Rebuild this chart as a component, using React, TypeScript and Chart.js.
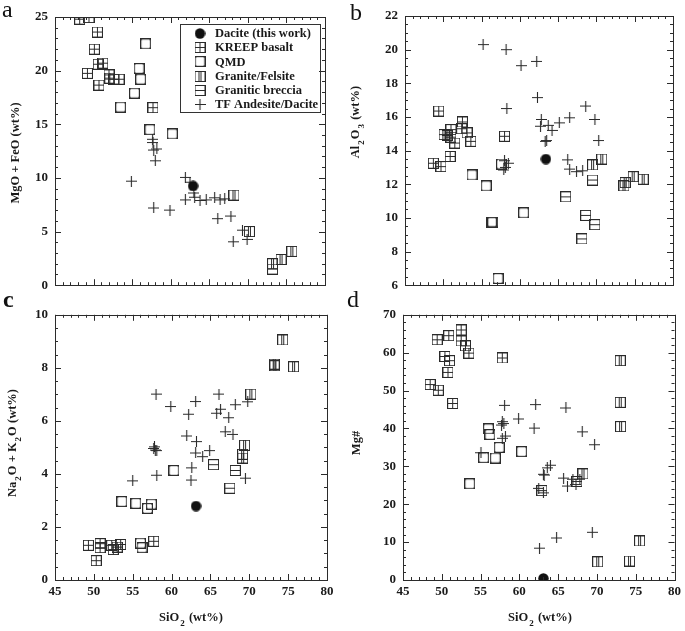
import React, { useEffect, useRef } from "react";
import { Chart, registerables } from "chart.js";
Chart.register(...registerables);

type P = [number, number];

// ---------- Panel a : MgO + FeO ----------
const A_DACITE: P[] = [[62.9, 9.25]];
const A_KREEP: P[] = [[48.2, 24.8], [49.4, 24.95], [50.5, 23.6], [50.1, 22.0], [49.2, 19.75], [50.6, 20.6], [51.2, 20.7], [50.7, 18.65], [52.0, 19.6], [52.1, 19.3], [52.6, 19.2], [53.3, 19.2], [57.7, 16.55]];
const A_QMD: P[] = [[56.75, 22.5], [55.9, 20.2], [56.1, 19.2], [55.3, 17.9], [53.5, 16.6], [57.3, 14.5], [60.2, 14.1]];
const A_GRANITE: P[] = [[68.2, 8.4], [70.2, 5.0], [73.2, 2.0], [74.3, 2.4], [75.7, 3.15]];
const A_BRECCIA: P[] = [[73.2, 1.5]];
const A_TF: P[] = [[57.65, 13.6], [57.7, 13.3], [57.8, 12.6], [58.2, 12.7], [58.0, 11.6], [54.9, 9.7], [57.8, 7.2], [59.9, 7.0], [61.9, 10.05], [62.5, 9.6], [61.9, 7.95], [63.0, 8.6], [63.1, 8.2], [63.8, 7.9], [64.6, 7.95], [65.7, 8.15], [66.4, 7.95], [67.0, 8.05], [66.1, 6.2], [67.8, 6.45], [68.1, 4.05], [69.3, 5.13], [69.9, 4.27]];

// ---------- Panel b : Al2O3 ----------
const B_DACITE: P[] = [[63.4, 13.5]];
const B_KREEP: P[] = [[49.4, 16.35], [48.7, 13.25], [49.7, 13.05], [50.1, 14.95], [50.5, 14.9], [51.0, 15.25], [51.0, 14.8], [51.5, 14.45], [50.9, 13.65], [52.5, 15.7], [52.4, 15.3], [53.1, 15.05], [53.6, 14.55], [58.0, 14.85]];
const B_QMD: P[] = [[53.75, 12.55], [55.6, 11.9], [56.3, 9.75], [56.45, 9.75], [57.15, 6.4], [60.5, 10.3], [57.6, 13.2]];
const B_GRANITE: P[] = [[69.5, 13.15], [70.7, 13.5], [73.6, 11.9], [73.75, 12.1], [74.8, 12.45], [76.1, 12.3]];
const B_BRECCIA: P[] = [[66.0, 11.25], [68.6, 10.15], [68.1, 8.75], [69.8, 9.6], [69.5, 12.25]];
const B_TF: P[] = [[55.2, 20.3], [58.2, 20.0], [60.15, 19.05], [62.2, 19.3], [62.3, 17.15], [58.3, 16.5], [62.8, 15.85], [62.7, 15.45], [63.7, 15.5], [64.2, 15.2], [65.15, 15.65], [66.5, 15.95], [68.6, 16.65], [69.8, 15.85], [70.3, 14.6], [63.3, 14.55], [63.5, 14.6], [66.25, 13.45], [66.5, 12.9], [67.4, 12.75], [68.2, 12.8], [58.0, 13.4], [58.1, 13.0], [57.9, 12.85], [58.5, 13.25]];

// ---------- Panel c : Na2O + K2O ----------
const C_DACITE: P[] = [[63.15, 2.79]];
const C_KREEP: P[] = [[49.3, 1.31], [50.3, 0.73], [50.8, 1.37], [50.8, 1.22], [52.3, 1.31], [52.5, 1.15], [53.0, 1.24], [53.45, 1.34], [57.7, 1.46]];
const C_QMD: P[] = [[53.6, 2.96], [55.4, 2.89], [56.9, 2.7], [57.4, 2.86], [56.0, 1.39], [56.2, 1.22], [60.3, 4.13]];
const C_GRANITE: P[] = [[73.2, 8.14], [73.3, 8.08], [74.3, 9.05], [75.7, 8.04], [70.2, 7.01], [69.4, 5.08], [69.15, 4.74], [69.15, 4.6]];
const C_BRECCIA: P[] = [[65.4, 4.35], [68.2, 4.13], [67.5, 3.46]];
const C_TF: P[] = [[58.0, 7.01], [59.9, 6.54], [63.1, 6.73], [62.2, 6.25], [66.1, 7.01], [65.8, 6.29], [66.3, 6.44], [68.2, 6.61], [69.8, 6.72], [67.35, 6.12], [66.9, 5.59], [67.9, 5.49], [61.95, 5.43], [63.2, 5.22], [63.1, 4.79], [64.9, 4.88], [64.0, 4.65], [62.6, 4.23], [62.5, 3.77], [58.1, 3.95], [55.0, 3.74], [69.5, 3.84], [57.8, 5.02], [57.9, 4.9], [57.7, 4.96], [58.1, 4.88]];

// ---------- Panel d : Mg# ----------
const D_DACITE: P[] = [[63.1, 0.4]];
const D_KREEP: P[] = [[48.5, 51.6], [49.55, 50.1], [49.4, 63.4], [50.4, 59.0], [50.9, 64.5], [51.0, 57.9], [50.8, 54.8], [51.4, 46.6], [52.5, 66.0], [52.5, 63.1], [53.05, 61.8], [53.5, 59.9], [57.8, 58.6]];
const D_QMD: P[] = [[56.0, 39.9], [56.2, 38.4], [55.4, 32.3], [56.9, 32.2], [57.4, 35.0], [60.3, 33.9], [53.6, 25.4]];
const D_GRANITE: P[] = [[73.0, 57.9], [73.0, 46.9], [73.05, 40.5], [75.5, 10.3], [74.2, 5.0], [70.1, 4.8], [68.2, 28.0]];
const D_BRECCIA: P[] = [[67.4, 26.0], [62.9, 23.6]];
const D_TF: P[] = [[58.1, 46.1], [62.1, 46.3], [66.0, 45.4], [59.9, 42.5], [61.9, 40.1], [57.8, 41.8], [57.7, 40.9], [58.0, 41.3], [57.8, 37.4], [58.2, 38.0], [68.1, 39.1], [69.7, 35.7], [55.05, 33.6], [64.0, 30.3], [63.6, 29.6], [63.1, 27.9], [63.2, 27.7], [65.7, 26.9], [66.2, 24.8], [66.9, 26.6], [67.3, 25.2], [67.8, 26.6], [62.5, 24.2], [63.1, 23.0], [69.4, 12.6], [64.8, 11.1], [62.6, 8.4]];

// ---------- labels / ticks ----------
const SERIES_LABELS = ["Dacite (this work)", "KREEP basalt", "QMD", "Granite/Felsite", "Granitic breccia", "TF Andesite/Dacite"];
const SERIES_KEYS = ["dacite", "kreep", "qmd", "granite", "breccia", "tf"];
const X_MIN = 45, X_MAX = 80, X_STEP = 5, X_MINOR = 1;

const FONT = '"Liberation Serif", "Times New Roman", Times, serif';
const INK = "#1a1a1a";

type Seg = { t: string; sub?: boolean };

function makeMarker(kind: string): HTMLCanvasElement {
  const s = 11;
  const c = document.createElement("canvas");
  c.width = s; c.height = s;
  const g = c.getContext("2d")!;
  g.strokeStyle = "#2a2a2a"; g.fillStyle = "#111"; g.lineWidth = 1;
  if (kind === "dacite") {
    g.beginPath(); g.arc(5.5, 5.5, 5.2, 0, Math.PI * 2); g.fill();
    return c;
  }
  if (kind === "tf") {
    g.lineWidth = 1.1;
    g.beginPath(); g.moveTo(0, 5.5); g.lineTo(11, 5.5); g.moveTo(5.5, 0); g.lineTo(5.5, 11); g.stroke();
    return c;
  }
  if (kind === "qmd") {
    g.lineWidth = 1.2;
    g.strokeRect(0.6, 0.6, 9.8, 9.8);
    g.fillStyle = "#333";
    g.beginPath();
    g.rect(0.5, 0.5, 10, 10);
    g.arc(5.5, 5.5, 5.7, 0, Math.PI * 2);
    g.fill("evenodd");
    return c;
  }
  g.strokeRect(0.5, 0.5, 10, 10);
  g.beginPath();
  if (kind === "kreep") { g.moveTo(5.5, 0.5); g.lineTo(5.5, 10.5); g.moveTo(0.5, 5.5); g.lineTo(10.5, 5.5); }
  if (kind === "granite") { g.moveTo(4.5, 0.5); g.lineTo(4.5, 10.5); g.moveTo(6.5, 0.5); g.lineTo(6.5, 10.5); }
  if (kind === "breccia") { g.moveTo(0.5, 5.5); g.lineTo(10.5, 5.5); }
  g.stroke();
  return c;
}

type Panel = {
  id: string; letter: string; letterBold?: boolean;
  left: number; top: number; w: number; h: number;
  padTop: number; padRight: number; yW: number; xH: number;
  yMin: number; yMax: number; yStep: number; yMinor: number;
  showX: boolean;
  data: P[][];
  yTitle: Seg[]; yTitlePos: [number, number];
  xTitlePos?: [number, number];
  legend?: boolean;
  letterPos: [number, number];
};

const X_TITLE: Seg[] = [{ t: "SiO" }, { t: "2", sub: true }, { t: " (wt%)" }];

const PANELS: Panel[] = [
  { id: "a", letter: "a", left: 0, top: 0, w: 340, h: 300, padTop: 17, padRight: 15, yW: 55, xH: 11,
    yMin: 0, yMax: 25, yStep: 5, yMinor: 1, showX: false,
    data: [A_DACITE, A_KREEP, A_QMD, A_GRANITE, A_BRECCIA, A_TF],
    yTitle: [{ t: "MgO + FeO (wt%)" }], yTitlePos: [16, 153], legend: true, letterPos: [2, -3] },
  { id: "b", letter: "b", left: 340, top: 0, w: 345, h: 300, padTop: 16, padRight: 12, yW: 65, xH: 11,
    yMin: 6, yMax: 22, yStep: 2, yMinor: 0.5, showX: false,
    data: [B_DACITE, B_KREEP, B_QMD, B_GRANITE, B_BRECCIA, B_TF],
    yTitle: [{ t: "Al" }, { t: "2", sub: true }, { t: "O" }, { t: "3", sub: true }, { t: " (wt%)" }], yTitlePos: [16, 122], letterPos: [350, 0] },
  { id: "c", letter: "c", letterBold: true, left: 0, top: 300, w: 340, h: 331, padTop: 6, padRight: 13, yW: 55, xH: 51,
    yMin: 0, yMax: 10, yStep: 2, yMinor: 0.5, showX: true,
    data: [C_DACITE, C_KREEP, C_QMD, C_GRANITE, C_BRECCIA, C_TF],
    yTitle: [{ t: "Na" }, { t: "2", sub: true }, { t: "O + K" }, { t: "2", sub: true }, { t: "O (wt%)" }], yTitlePos: [13, 143],
    xTitlePos: [191, 318], letterPos: [3, 287] },
  { id: "d", letter: "d", left: 340, top: 300, w: 345, h: 331, padTop: 6, padRight: 8, yW: 63, xH: 51,
    yMin: 0, yMax: 70, yStep: 10, yMinor: 2, showX: true,
    data: [D_DACITE, D_KREEP, D_QMD, D_GRANITE, D_BRECCIA, D_TF],
    yTitle: [{ t: "Mg#" }], yTitlePos: [17, 143], xTitlePos: [200, 318], letterPos: [347, 287] },
];

function drawSegs(g: CanvasRenderingContext2D, segs: Seg[], cx: number, cy: number, rotate: boolean) {
  const main = `bold 12.5px ${FONT}`;
  const sub = `bold 9px ${FONT}`;
  g.save();
  g.translate(cx, cy);
  if (rotate) g.rotate(-Math.PI / 2);
  let total = 0;
  const widths = segs.map(s => { g.font = s.sub ? sub : main; const w = g.measureText(s.t).width + (s.sub ? 2 : 0); total += w; return w; });
  let x = -total / 2;
  g.fillStyle = INK;
  g.textBaseline = "middle";
  g.textAlign = "left";
  segs.forEach((s, i) => {
    g.font = s.sub ? sub : main;
    g.fillText(s.t, x + (s.sub ? 1 : 0), s.sub ? 6 : 0);
    x += widths[i];
  });
  g.restore();
}

function makeDecorPlugin(p: Panel, markers: HTMLCanvasElement[]) {
  return {
    id: "decor-" + p.id,
    afterDatasetsDraw(chart: any) {
      const g: CanvasRenderingContext2D = chart.ctx;
      const a = chart.chartArea;
      const xs = chart.scales.x, ys = chart.scales.y;
      g.save();
      g.strokeStyle = "#2b2b2b";
      g.lineWidth = 1;
      // frame
      g.strokeRect(Math.round(a.left) + 0.5, Math.round(a.top) + 0.5, Math.round(a.right - a.left), Math.round(a.bottom - a.top));
      g.beginPath();
      // x ticks
      const nx = Math.round((X_MAX - X_MIN) / X_MINOR);
      for (let i = 0; i <= nx; i++) {
        const v = X_MIN + i * X_MINOR;
        const major = Math.abs(v / X_STEP - Math.round(v / X_STEP)) < 1e-6;
        const L = major ? 6 : 3;
        const px = Math.round(xs.getPixelForValue(v)) + 0.5;
        g.moveTo(px, a.bottom); g.lineTo(px, a.bottom - L);
        g.moveTo(px, a.top); g.lineTo(px, a.top + L);
      }
      const ny = Math.round((p.yMax - p.yMin) / p.yMinor);
      for (let i = 0; i <= ny; i++) {
        const v = p.yMin + i * p.yMinor;
        const r = (v - p.yMin) / p.yStep;
        const major = Math.abs(r - Math.round(r)) < 1e-6;
        const L = major ? 6 : 3;
        const py = Math.round(ys.getPixelForValue(v)) + 0.5;
        g.moveTo(a.left, py); g.lineTo(a.left + L, py);
        g.moveTo(a.right, py); g.lineTo(a.right - L, py);
      }
      g.stroke();
      g.restore();

      // axis titles
      drawSegs(g, p.yTitle, p.yTitlePos[0], p.yTitlePos[1], true);
      if (p.xTitlePos) drawSegs(g, X_TITLE, p.xTitlePos[0], p.xTitlePos[1], false);

      // legend
      if (p.legend) {
        g.save();
        g.strokeStyle = "#333"; g.lineWidth = 1;
        g.strokeRect(180.5, 24.5, 140, 88);
        g.font = `bold 12.5px ${FONT}`;
        g.fillStyle = INK; g.textBaseline = "middle"; g.textAlign = "left";
        SERIES_LABELS.forEach((lab, i) => {
          const y = 33.5 + i * 14.2;
          const m = markers[i];
          g.drawImage(m, 200 - m.width / 2, Math.round(y - m.height / 2));
          g.fillText(lab, 215, y + 0.5);
        });
        g.restore();
      }
    },
  };
}

function PanelChart({ p }: { p: Panel }) {
  const ref = useRef<HTMLCanvasElement>(null);
  useEffect(() => {
    const markers = SERIES_KEYS.map(k => makeMarker(k));
    const tickFont = { family: FONT, size: 13, weight: "bold" as const };
    const chart = new Chart(ref.current!, {
      type: "scatter",
      data: {
        datasets: p.data.map((pts, i) => ({
          label: SERIES_LABELS[i],
          data: pts.map(([x, y]) => ({ x, y })),
          pointStyle: markers[i] as any,
          pointRadius: 5,
          backgroundColor: "#111",
          borderColor: "#222",
        })),
      },
      options: {
        animation: false,
        responsive: false,
        events: [],
        layout: { padding: { top: p.padTop, right: p.padRight, left: 0, bottom: 0 } },
        plugins: { legend: { display: false }, tooltip: { enabled: false }, title: { display: false } },
        scales: {
          x: {
            type: "linear", min: X_MIN, max: X_MAX,
            ticks: { display: p.showX, stepSize: X_STEP, font: tickFont, color: INK, padding: 4, maxRotation: 0 },
            grid: { display: false, drawTicks: false },
            border: { display: false },
            afterFit: (s: any) => { s.height = p.xH; },
          },
          y: {
            type: "linear", min: p.yMin, max: p.yMax,
            ticks: { stepSize: p.yStep, font: tickFont, color: INK, padding: 7 },
            grid: { display: false, drawTicks: false },
            border: { display: false },
            afterFit: (s: any) => { s.width = p.yW; },
          },
        },
      },
      plugins: [makeDecorPlugin(p, markers)],
    });
    return () => chart.destroy();
  }, [p]);
  return (
    <canvas ref={ref} width={p.w} height={p.h}
      style={{ position: "absolute", left: p.left, top: p.top, width: p.w, height: p.h }} />
  );
}

export default function App() {
  return (
    <div style={{ position: "fixed", left: 0, top: 0, width: 685, height: 631, background: "#fff", overflow: "hidden" }}>
      {PANELS.map(p => <PanelChart key={p.id} p={p} />)}
      {PANELS.map(p => (
        <span key={"l" + p.id} style={{
          position: "absolute", left: p.letterPos[0], top: p.letterPos[1], fontFamily: FONT,
          fontSize: 24, lineHeight: 1, fontWeight: p.letterBold ? "bold" : "normal", color: "#111",
        }}>{p.letter}</span>
      ))}
    </div>
  );
}
